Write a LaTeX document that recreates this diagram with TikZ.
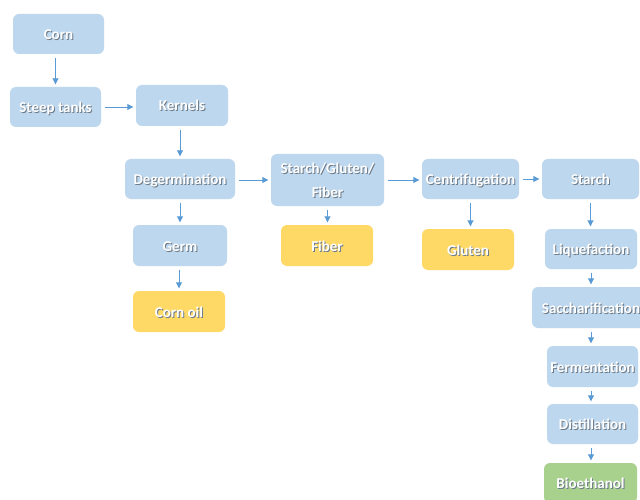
\documentclass[tikz,border=0pt]{standalone}
\usepackage{fontspec}
\setmainfont{Carlito}
\usetikzlibrary{arrows.meta}
\definecolor{boxblue}{HTML}{BDD7EE}
\definecolor{boxyellow}{HTML}{FFD966}
\definecolor{boxgreen}{HTML}{A9D18E}
\definecolor{arrowblue}{HTML}{5B9BD5}
\definecolor{shadowc}{HTML}{6F7C89}
% white label with a soft grey drop shadow; fixed line height, no depth
\newcommand\shtxt[1]{\rule{0pt}{11pt}\smash{{\color{shadowc}\rlap{\hspace{1pt}\raisebox{-1pt}{#1}}}#1}}
\tikzset{
  stage/.style={rounded corners=6pt, inner sep=0pt, text=white,
    font=\fontsize{15}{24}\selectfont\bfseries, align=center},
  bluebox/.style={stage, fill=boxblue},
  yellowbox/.style={stage, fill=boxyellow},
  greenbox/.style={stage, fill=boxgreen},
  arr/.style={draw=arrowblue, line width=0.9pt,
    -{Triangle[length=6pt,width=6pt]}, shorten <=3.5pt, shorten >=2.5pt},
}
\begin{document}
\begin{tikzpicture}[x=1pt,y=-1pt]
\clip (0,0) rectangle (640,500);
\fill[white] (0,0) rectangle (640,500);

% main line
\node[bluebox, minimum width=91pt, minimum height=40pt] (corn)  at (58.5,34)   {\shtxt{Corn}};
\node[bluebox, minimum width=91pt, minimum height=40pt] (steep) at (55.5,107)  {\shtxt{Steep tanks}};
\node[bluebox, minimum width=92pt, minimum height=41pt] (kern)  at (182,105.5) {\shtxt{Kernels}};
\node[bluebox, minimum width=110pt, minimum height=40pt] (degm) at (180,179)   {\shtxt{Degermination}};
\node[bluebox, minimum width=113pt, minimum height=52pt] (sgf)  at (327.5,180) {\shtxt{Starch/Gluten/}\\\shtxt{Fiber}};
\node[bluebox, minimum width=97pt, minimum height=40pt] (cent)  at (470.5,179) {\shtxt{Centrifugation}};
\node[bluebox, minimum width=97pt, minimum height=40pt] (starch) at (590.5,179) {\shtxt{Starch}};

% by-products
\node[bluebox, minimum width=94pt, minimum height=41pt] (germ)    at (180,245.5) {\shtxt{Germ}};
\node[yellowbox, minimum width=92pt, minimum height=41pt] (oil)   at (179,311.5) {\shtxt{Corn oil}};
\node[yellowbox, minimum width=92pt, minimum height=41pt] (fiber) at (327,245.5) {\shtxt{Fiber}};
\node[yellowbox, minimum width=92pt, minimum height=41pt] (glut)  at (468,249.5) {\shtxt{Gluten}};

% starch to ethanol
\node[bluebox, minimum width=92pt, minimum height=40pt] (liq)   at (591,249)   {\shtxt{Liquefaction}};
\node[bluebox, minimum width=118pt, minimum height=41pt] (sacc) at (591,307.5) {\shtxt{Saccharification}};
\node[bluebox, minimum width=91pt, minimum height=41pt] (ferm)  at (592.5,366.5) {\shtxt{Fermentation}};
\node[bluebox, minimum width=91pt, minimum height=40pt] (dist)  at (592.5,424) {\shtxt{Distillation}};
\node[greenbox, minimum width=93pt, minimum height=40pt] (bio)  at (590.5,483) {\shtxt{Bioethanol}};

% connectors
\draw[arr] (corn.south -| steep) -- (steep.north);
\draw[arr] (steep.east) -- (steep.east -| kern.west);
\draw[arr] (kern.south -| degm) -- (degm.north);
\draw[arr] (degm.east |- sgf) -- (sgf.west);
\draw[arr] (sgf.east) -- (sgf.east -| cent.west);
\draw[arr] (cent.east) -- (cent.east -| starch.west);
\draw[arr] (degm.south) -- (degm.south |- germ.north);
\draw[arr] (germ.south -| oil) -- (oil.north);
\draw[arr] (sgf.south) -- (sgf.south |- fiber.north);
\draw[arr] (cent.south) -- (cent.south |- glut.north);
\draw[arr] (starch.south) -- (starch.south |- liq.north);
\draw[arr] (liq.south) -- (liq.south |- sacc.north);
\draw[arr] (sacc.south) -- (sacc.south |- ferm.north);
\draw[arr] (ferm.south -| sacc) -- (sacc |- dist.north);
\draw[arr] (dist.south -| sacc) -- (sacc |- bio.north);
\end{tikzpicture}
\end{document}
